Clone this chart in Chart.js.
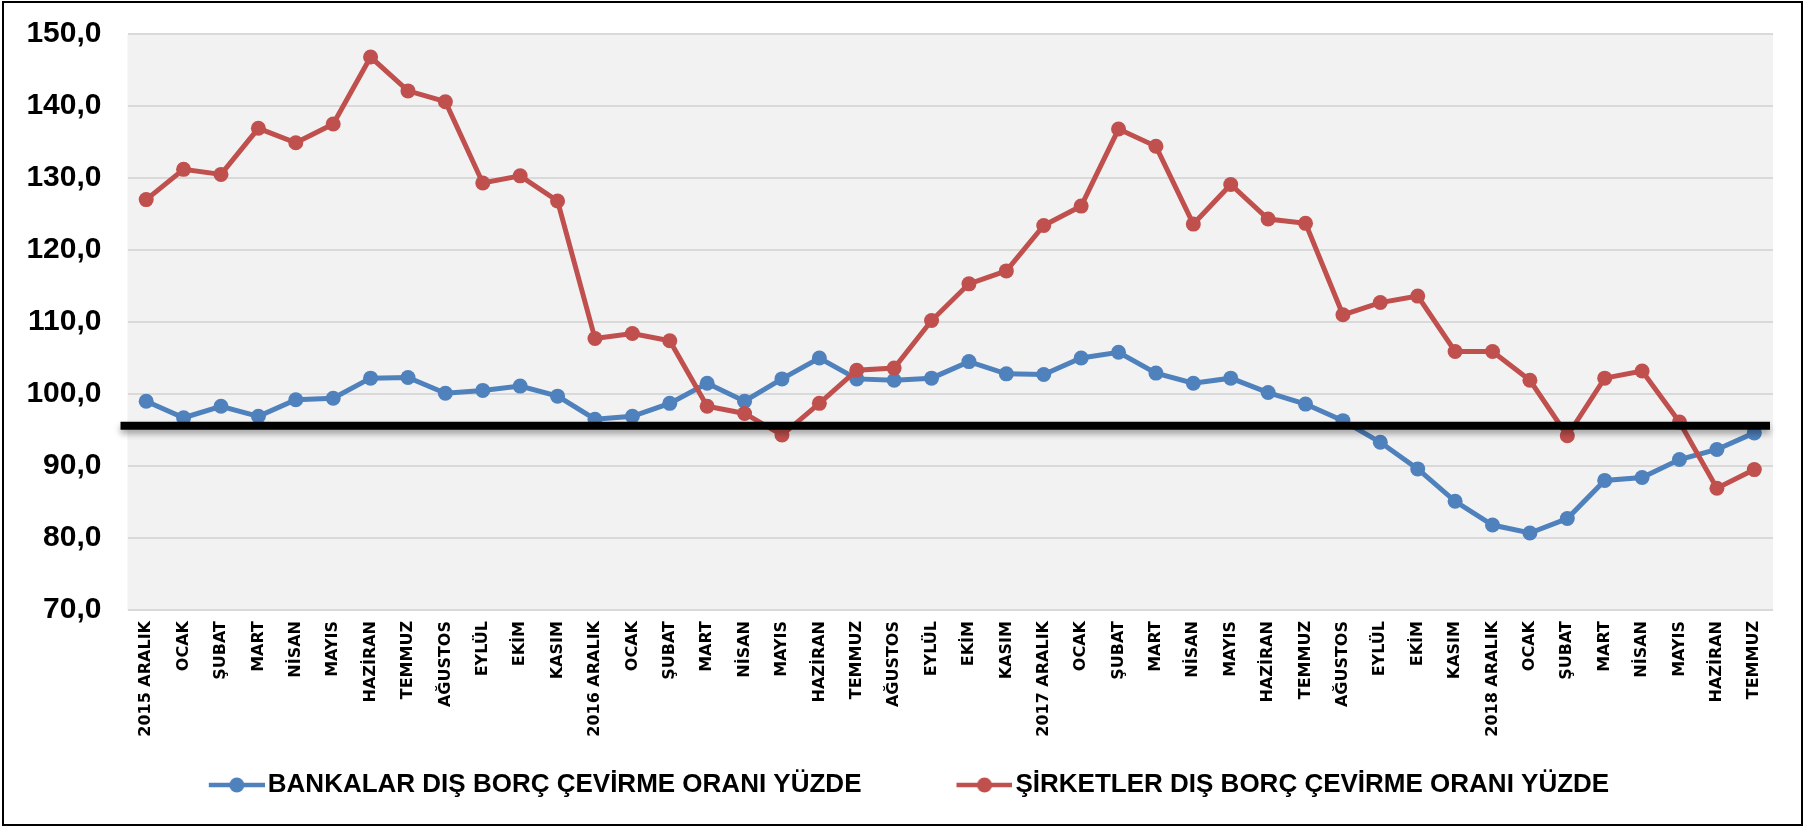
<!DOCTYPE html>
<html>
<head>
<meta charset="utf-8">
<script src="https://cdn.jsdelivr.net/npm/chart.js@4.4.0/dist/chart.umd.min.js"></script>
<style>
  html, body { margin: 0; padding: 0; background: #fff; overflow: hidden; }
  #kutu { position: relative; width: 1804px; height: 827px; }
</style>
</head>
<body>
<div id="kutu"><canvas id="myChart"></canvas></div>
<script>
// aylar (x ekseni)
const aylar = [
  '2015 ARALIK', 'OCAK', 'ŞUBAT', 'MART', 'NİSAN', 'MAYIS', 'HAZİRAN', 'TEMMUZ', 'AĞUSTOS', 'EYLÜL', 'EKİM', 'KASIM',
  '2016 ARALIK', 'OCAK', 'ŞUBAT', 'MART', 'NİSAN', 'MAYIS', 'HAZİRAN', 'TEMMUZ', 'AĞUSTOS', 'EYLÜL', 'EKİM', 'KASIM',
  '2017 ARALIK', 'OCAK', 'ŞUBAT', 'MART', 'NİSAN', 'MAYIS', 'HAZİRAN', 'TEMMUZ', 'AĞUSTOS', 'EYLÜL', 'EKİM', 'KASIM',
  '2018 ARALIK', 'OCAK', 'ŞUBAT', 'MART', 'NİSAN', 'MAYIS', 'HAZİRAN', 'TEMMUZ'
];

const bankalar = [
  99.0, 96.7, 98.3, 96.9, 99.2, 99.4, 102.2, 102.3, 100.1, 100.5, 101.1, 99.7,
  96.5, 96.9, 98.7, 101.5, 99.0, 102.1, 105.0, 102.1, 101.9, 102.2, 104.5, 102.8,
  102.7, 105.0, 105.8, 102.9, 101.5, 102.2, 100.2, 98.6, 96.3, 93.3, 89.6, 85.1,
  81.8, 80.7, 82.7, 88.0, 88.4, 90.9, 92.3, 94.6
];

const sirketler = [
  127.0, 131.2, 130.5, 136.9, 134.9, 137.5, 146.8, 142.1, 140.6, 129.3, 130.3, 126.8,
  107.7, 108.4, 107.4, 98.3, 97.3, 94.3, 98.7, 103.3, 103.6, 110.2, 115.3, 117.1,
  123.4, 126.1, 136.8, 134.4, 123.6, 129.1, 124.3, 123.7, 111.0, 112.7, 113.6, 105.9,
  105.9, 101.9, 94.2, 102.2, 103.2, 96.1, 86.9, 89.5
];

const seriIsimleri = ['BANKALAR DIŞ BORÇ ÇEVİRME ORANI YÜZDE', 'ŞİRKETLER DIŞ BORÇ ÇEVİRME ORANI YÜZDE'];
const renkler = ['#4F81BD', '#C0504D'];

// y ekseni
const yMin = 70;
const yMax = 150;
const yAdim = 10;

// kalin siyah yatay cizgi
const esikDegeri = 95.6;

// legend kutusu: isaret sagda, solu bos
const kutuGenislik = 107;
function isaretYap(renk) {
  const c = document.createElement('canvas');
  c.width = kutuGenislik + 20;
  c.height = 18;
  const g = c.getContext('2d');
  const bas = c.width - 56;
  g.strokeStyle = renk;
  g.lineWidth = 4.5;
  g.beginPath();
  g.moveTo(bas, 9);
  g.lineTo(c.width, 9);
  g.stroke();
  g.fillStyle = renk;
  g.beginPath();
  g.arc(bas + 28, 9, 7.5, 0, Math.PI * 2);
  g.fill();
  return c;
}
const isaretler = renkler.map(isaretYap);

const arkaPlan = {
  id: 'arkaPlan',
  beforeDraw(chart) {
    const { ctx, chartArea } = chart;
    ctx.save();
    ctx.fillStyle = '#ffffff';
    ctx.fillRect(0, 0, chart.width, chart.height);
    ctx.fillStyle = '#F2F2F2';
    ctx.fillRect(chartArea.left, chartArea.top, chartArea.right - chartArea.left, chartArea.bottom - chartArea.top);
    ctx.restore();
  }
};

const esikCizgisi = {
  id: 'esikCizgisi',
  afterDatasetsDraw(chart) {
    const { ctx, chartArea, scales } = chart;
    const y = scales.y.getPixelForValue(esikDegeri);
    ctx.save();
    ctx.shadowColor = 'rgba(0,0,0,0.35)';
    ctx.shadowBlur = 6;
    ctx.shadowOffsetY = 4;
    ctx.strokeStyle = '#000';
    ctx.lineWidth = 8;
    ctx.beginPath();
    ctx.moveTo(chartArea.left - 7, y);
    ctx.lineTo(chartArea.right - 3, y);
    ctx.stroke();
    ctx.restore();
  }
};

const cerceve = {
  id: 'cerceve',
  afterDraw(chart) {
    const ctx = chart.ctx;
    ctx.save();
    ctx.strokeStyle = '#000';
    ctx.lineWidth = 2;
    ctx.strokeRect(3, 2, 1799, 823);
    ctx.restore();
  }
};

Chart.defaults.font.family = "'Liberation Sans', Arial, sans-serif";
Chart.defaults.color = '#000';

const ctx = document.getElementById('myChart').getContext('2d');
const myChart = new Chart(ctx, {
  type: 'line',
  data: {
    labels: aylar,
    datasets: [{
      label: seriIsimleri[0],
      data: bankalar,
      borderColor: renkler[0],
      backgroundColor: renkler[0],
      pointBackgroundColor: renkler[0],
      borderWidth: 5,
      pointRadius: 7.5,
      pointBorderWidth: 0,
      tension: 0,
      order: 1
    }, {
      label: seriIsimleri[1],
      data: sirketler,
      borderColor: renkler[1],
      backgroundColor: renkler[1],
      pointBackgroundColor: renkler[1],
      borderWidth: 5,
      pointRadius: 7.5,
      pointBorderWidth: 0,
      tension: 0,
      order: 0
    }]
  },
  options: {
    responsive: true,
    maintainAspectRatio: false,
    animation: false,
    layout: {
      padding: { top: 34, right: 31, bottom: 19, left: -16 }
    },
    plugins: {
      tooltip: { enabled: false },
      legend: {
        position: 'bottom',
        labels: {
          usePointStyle: true,
          pointStyleWidth: kutuGenislik,
          boxHeight: 18,
          padding: 34,
          color: '#000',
          font: { size: 26, weight: 'bold' },
          sort: (a, b) => a.datasetIndex - b.datasetIndex,
          generateLabels(chart) {
            const items = Chart.defaults.plugins.legend.labels.generateLabels(chart);
            items.forEach(it => { it.pointStyle = isaretler[it.datasetIndex]; });
            return items;
          }
        }
      }
    },
    scales: {
      x: {
        offset: true,
        grid: { display: false, drawTicks: false, offset: true },
        border: { display: false },
        ticks: {
          autoSkip: false,
          minRotation: 90,
          maxRotation: 90,
          padding: 11,
          color: '#000',
          font: { family: "'DejaVu Sans', Verdana, sans-serif", size: 16, weight: 'bold' }
        },
        afterFit(scale) { scale.height = 128; }
      },
      y: {
        min: yMin,
        max: yMax,
        grid: { color: '#D9D9D9', lineWidth: 2, drawTicks: true, tickLength: 26, tickColor: 'rgba(0,0,0,0)' },
        border: { display: false },
        ticks: {
          stepSize: yAdim,
          padding: 0,
          color: '#000',
          font: { size: 30, weight: 'bold' },
          callback: v => v.toFixed(1).replace('.', ',')
        },
        afterFit(scale) { scale.width = 143.5; }
      }
    }
  },
  plugins: [arkaPlan, esikCizgisi, cerceve]
});
</script>
</body>
</html>
